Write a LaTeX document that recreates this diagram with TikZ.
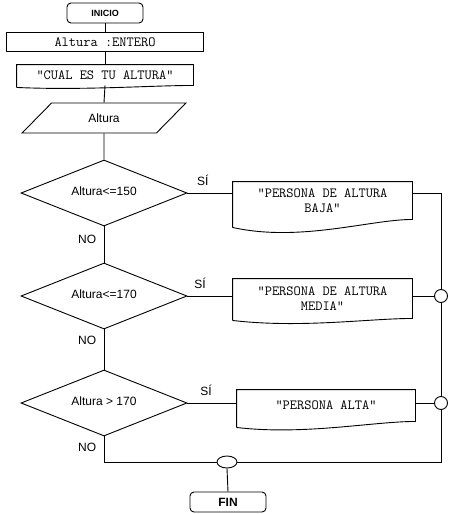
\documentclass[tikz,border=0pt]{standalone}
\usepackage{fontspec}
\setmainfont{Liberation Sans}
\usetikzlibrary{shapes.geometric, calc}
\tikzset{
  terminal/.style = {
    draw, rounded corners=4pt, minimum width=76pt, minimum height=20pt, inner sep=0pt
  },
  declbox/.style = {
    draw, minimum width=197pt, minimum height=19pt, inner sep=0pt,
    font=\ttfamily\fontsize{14}{15}\selectfont
  },
  docbox/.style = {
    align=center, inner sep=0pt, font=\ttfamily\fontsize{14}{15}\selectfont
  },
  datain/.style = {
    trapezium, draw, trapezium left angle=45, trapezium right angle=135,
    trapezium stretches=true, minimum width=164pt, minimum height=30pt, inner sep=0pt
  },
  decision/.style = {
    diamond, draw, aspect=2.5, minimum width=166pt, minimum height=66pt, inner sep=0pt
  },
  joint/.style = {circle, draw, minimum size=13pt, inner sep=0pt},
  merge/.style = {ellipse, draw, minimum width=20pt, minimum height=12pt, inner sep=0pt},
  lbl/.style = {font=\fontsize{12}{14}\selectfont},
}

\begin{document}
\begin{tikzpicture}[x=1pt, y=-1pt, line width=0.9pt, font=\fontsize{12}{14}\selectfont]
    \useasboundingbox (0,0) rectangle (455,514);

    % Main column
    \node[terminal, font=\bfseries\fontsize{9}{11}\selectfont] (inicio) at (105,13) {INICIO};
    \node[declbox] (decl) at (105,42) {Altura :ENTERO};
    \node[docbox, minimum width=176pt, minimum height=20pt] (pregunta) at (105,75) {“CUAL ES TU ALTURA”};
    \node[datain] (leer) at (104,118) {Altura};

    \node[decision] (d1) at (104,193) {\raisebox{4pt}{Altura<=150}};
    \node[decision] (d2) at (104,296) {\raisebox{4pt}{Altura<=170}};
    \node[decision] (d3) at (104,403) {\raisebox{4pt}{Altura > 170}};

    % Output documents
    \node[docbox, minimum width=179pt, minimum height=37pt] (baja) at (322.5,200.5) {“PERSONA DE ALTURA\\BAJA”};
    \node[docbox, minimum width=179pt, minimum height=39pt] (media) at (322.5,298.5) {“PERSONA DE ALTURA\\MEDIA”};
    \node[docbox, minimum width=178pt, minimum height=31pt] (alta) at (326,405.5) {“PERSONA ALTA”};

    % Junctions and end
    \node[joint] (j2) at (441,296) {};
    \node[joint] (j3) at (441,403) {};
    \node[merge] (union) at (227,462) {};
    \node[terminal, font=\bfseries\fontsize{12}{14}\selectfont] (fin) at (228,502) {FIN};

    % Document outlines with wavy bottom
    \foreach \n/\dl/\dp in {pregunta/2/5, baja/8/23, media/2/10, alta/6/14} {
      \draw ($(\n.south west)+(0,\dl)$) -- (\n.north west) -- (\n.north east) -- (\n.south east)
        .. controls ($(\n.south east)!0.235!(\n.south west)$)
        and ($(\n.south west)!0.375!(\n.south east)+(0,\dp)$) .. ($(\n.south west)+(0,\dl)$);
    }

    % Connectors of the main column
    \draw (inicio) -- (decl);
    \draw (decl) -- (pregunta);
    \draw (pregunta.south) -- (leer.north);
    \draw (leer.south) -- (d1.north);
    \draw (d1.south) -- node[lbl, left=4pt, pos=0.35] {NO} (d2.north);
    \draw (d2.south) -- node[lbl, left=4pt, pos=0.26] {NO} (d3.north);
    \draw (d3.south) |- node[lbl, left=4pt, pos=0.21] {NO} (union.west);

    % Yes branches
    \draw (d1.east) -- node[lbl, above=4pt, pos=0.34] {SÍ} (d1.east -| baja.west);
    \draw (d2.east) -- node[lbl, above=4pt, pos=0.28] {SÍ} (d2.east -| media.west);
    \draw (d3.east) -- node[lbl, above=4pt, pos=0.38] {SÍ} (d3.east -| alta.west);

    % Return line on the right
    \draw (d1.east -| baja.east) -| (j2.north);
    \draw (j2.west -| media.east) -- (j2.west);
    \draw (j2.south) -- (j3.north);
    \draw (j3.west -| alta.east) -- (j3.west);
    \draw (j3.south) |- (union.east);
    \draw (union.south) -- (fin.north);

  \end{tikzpicture}
\end{document}
